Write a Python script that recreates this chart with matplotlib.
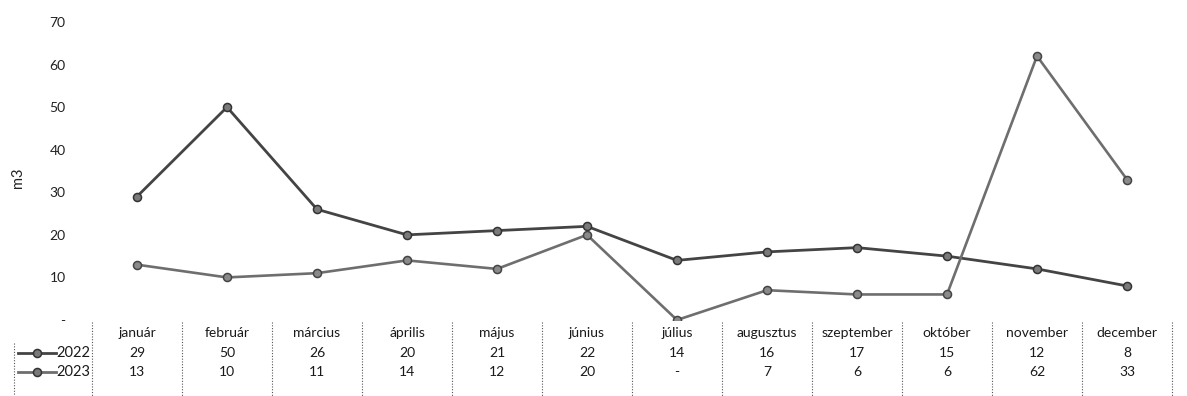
import matplotlib
matplotlib.use("Agg")
import matplotlib.pyplot as plt
from matplotlib.lines import Line2D
import matplotlib.transforms as mtransforms

months = ["január", "február", "március", "április", "május", "június",
          "július", "augusztus", "szeptember", "október", "november", "december"]
series_names = ["2022", "2023"]
values_2022 = [29, 50, 26, 20, 21, 22, 14, 16, 17, 15, 12, 8]
values_2023 = [13, 10, 11, 14, 12, 20, 0, 7, 6, 6, 62, 33]
table_2022 = ["29", "50", "26", "20", "21", "22", "14", "16", "17", "15", "12", "8"]
table_2023 = ["13", "10", "11", "14", "12", "20", "-", "7", "6", "6", "62", "33"]
yticks = [0, 10, 20, 30, 40, 50, 60, 70]
ytick_labels = ["-", "10", "20", "30", "40", "50", "60", "70"]

plt.rcParams['font.family'] = ['Lato', 'DejaVu Sans']

W, H = 1187, 396
fig = plt.figure(figsize=(W / 100, H / 100), dpi=100)
left, right = 92, 1172
top, bottom = 22, 320
ax = fig.add_axes([left / W, 1 - bottom / H, (right - left) / W, (bottom - top) / H])

colors = {"2022": "#444444", "2023": "#6e6e6e"}
x = list(range(len(months)))
ax.plot(x, values_2022, color=colors["2022"], lw=2.0, marker="o", ms=5.8,
        mfc="#7a7a7a", mec="#333333", mew=1.1, zorder=3)
ax.plot(x, values_2023, color=colors["2023"], lw=1.9, marker="o", ms=5.8,
        mfc="#8a8a8a", mec="#444444", mew=1.1, zorder=3)

ax.set_xlim(-0.5, len(months) - 0.5)
ax.set_ylim(0, 70)
ax.set_yticks(yticks)
ax.set_yticklabels(ytick_labels, fontsize=10, color="#222222")
ax.set_xticks([])
for s in ax.spines.values():
    s.set_visible(False)
ax.tick_params(axis="y", length=0, pad=19)
fig.text(18 / W, 1 - 178 / H, "m3", rotation=90, ha="center", va="center",
         fontsize=10.5, color="#222222")

# data table below
trans = mtransforms.blended_transform_factory(ax.transData, fig.transFigure)
def fy(py):
    return 1 - py / H

row_y = [333, 353, 372]
fs = 10
for i, m in enumerate(months):
    ax.text(i, fy(row_y[0]), m, transform=trans, ha="center", va="center",
            fontsize=fs, color="#1a1a1a", clip_on=False)
    ax.text(i, fy(row_y[1]), table_2022[i], transform=trans, ha="center", va="center",
            fontsize=fs, color="#1a1a1a", clip_on=False)
    ax.text(i, fy(row_y[2]), table_2023[i], transform=trans, ha="center", va="center",
            fontsize=fs, color="#1a1a1a", clip_on=False)

# vertical dotted separators
for b in range(len(months) + 1):
    xb = b - 0.5
    ax.add_line(Line2D([xb, xb], [fy(322), fy(396)], transform=trans, color="#555555",
                       lw=0.8, ls=(0, (1, 1.5)), clip_on=False))
# left boundary of row label area
fig.add_artist(Line2D([14 / W, 14 / W], [fy(343), fy(396)], color="#555555",
                      lw=0.8, ls=(0, (1, 1.5))))

# row labels with legend keys
for name, yy in zip(series_names, row_y[1:]):
    fig.text(90 / W, fy(yy), name, ha="right", va="center", fontsize=10.5, color="#1a1a1a")
    fig.add_artist(Line2D([18 / W, 56 / W], [fy(yy), fy(yy)], color=colors[name], lw=2.0))
    fig.add_artist(Line2D([37 / W], [fy(yy)], color=colors[name], marker="o", ms=5.8,
                          mfc="#7a7a7a", mec="#333333", mew=1.1))

fig.savefig("out.png", dpi=100)
